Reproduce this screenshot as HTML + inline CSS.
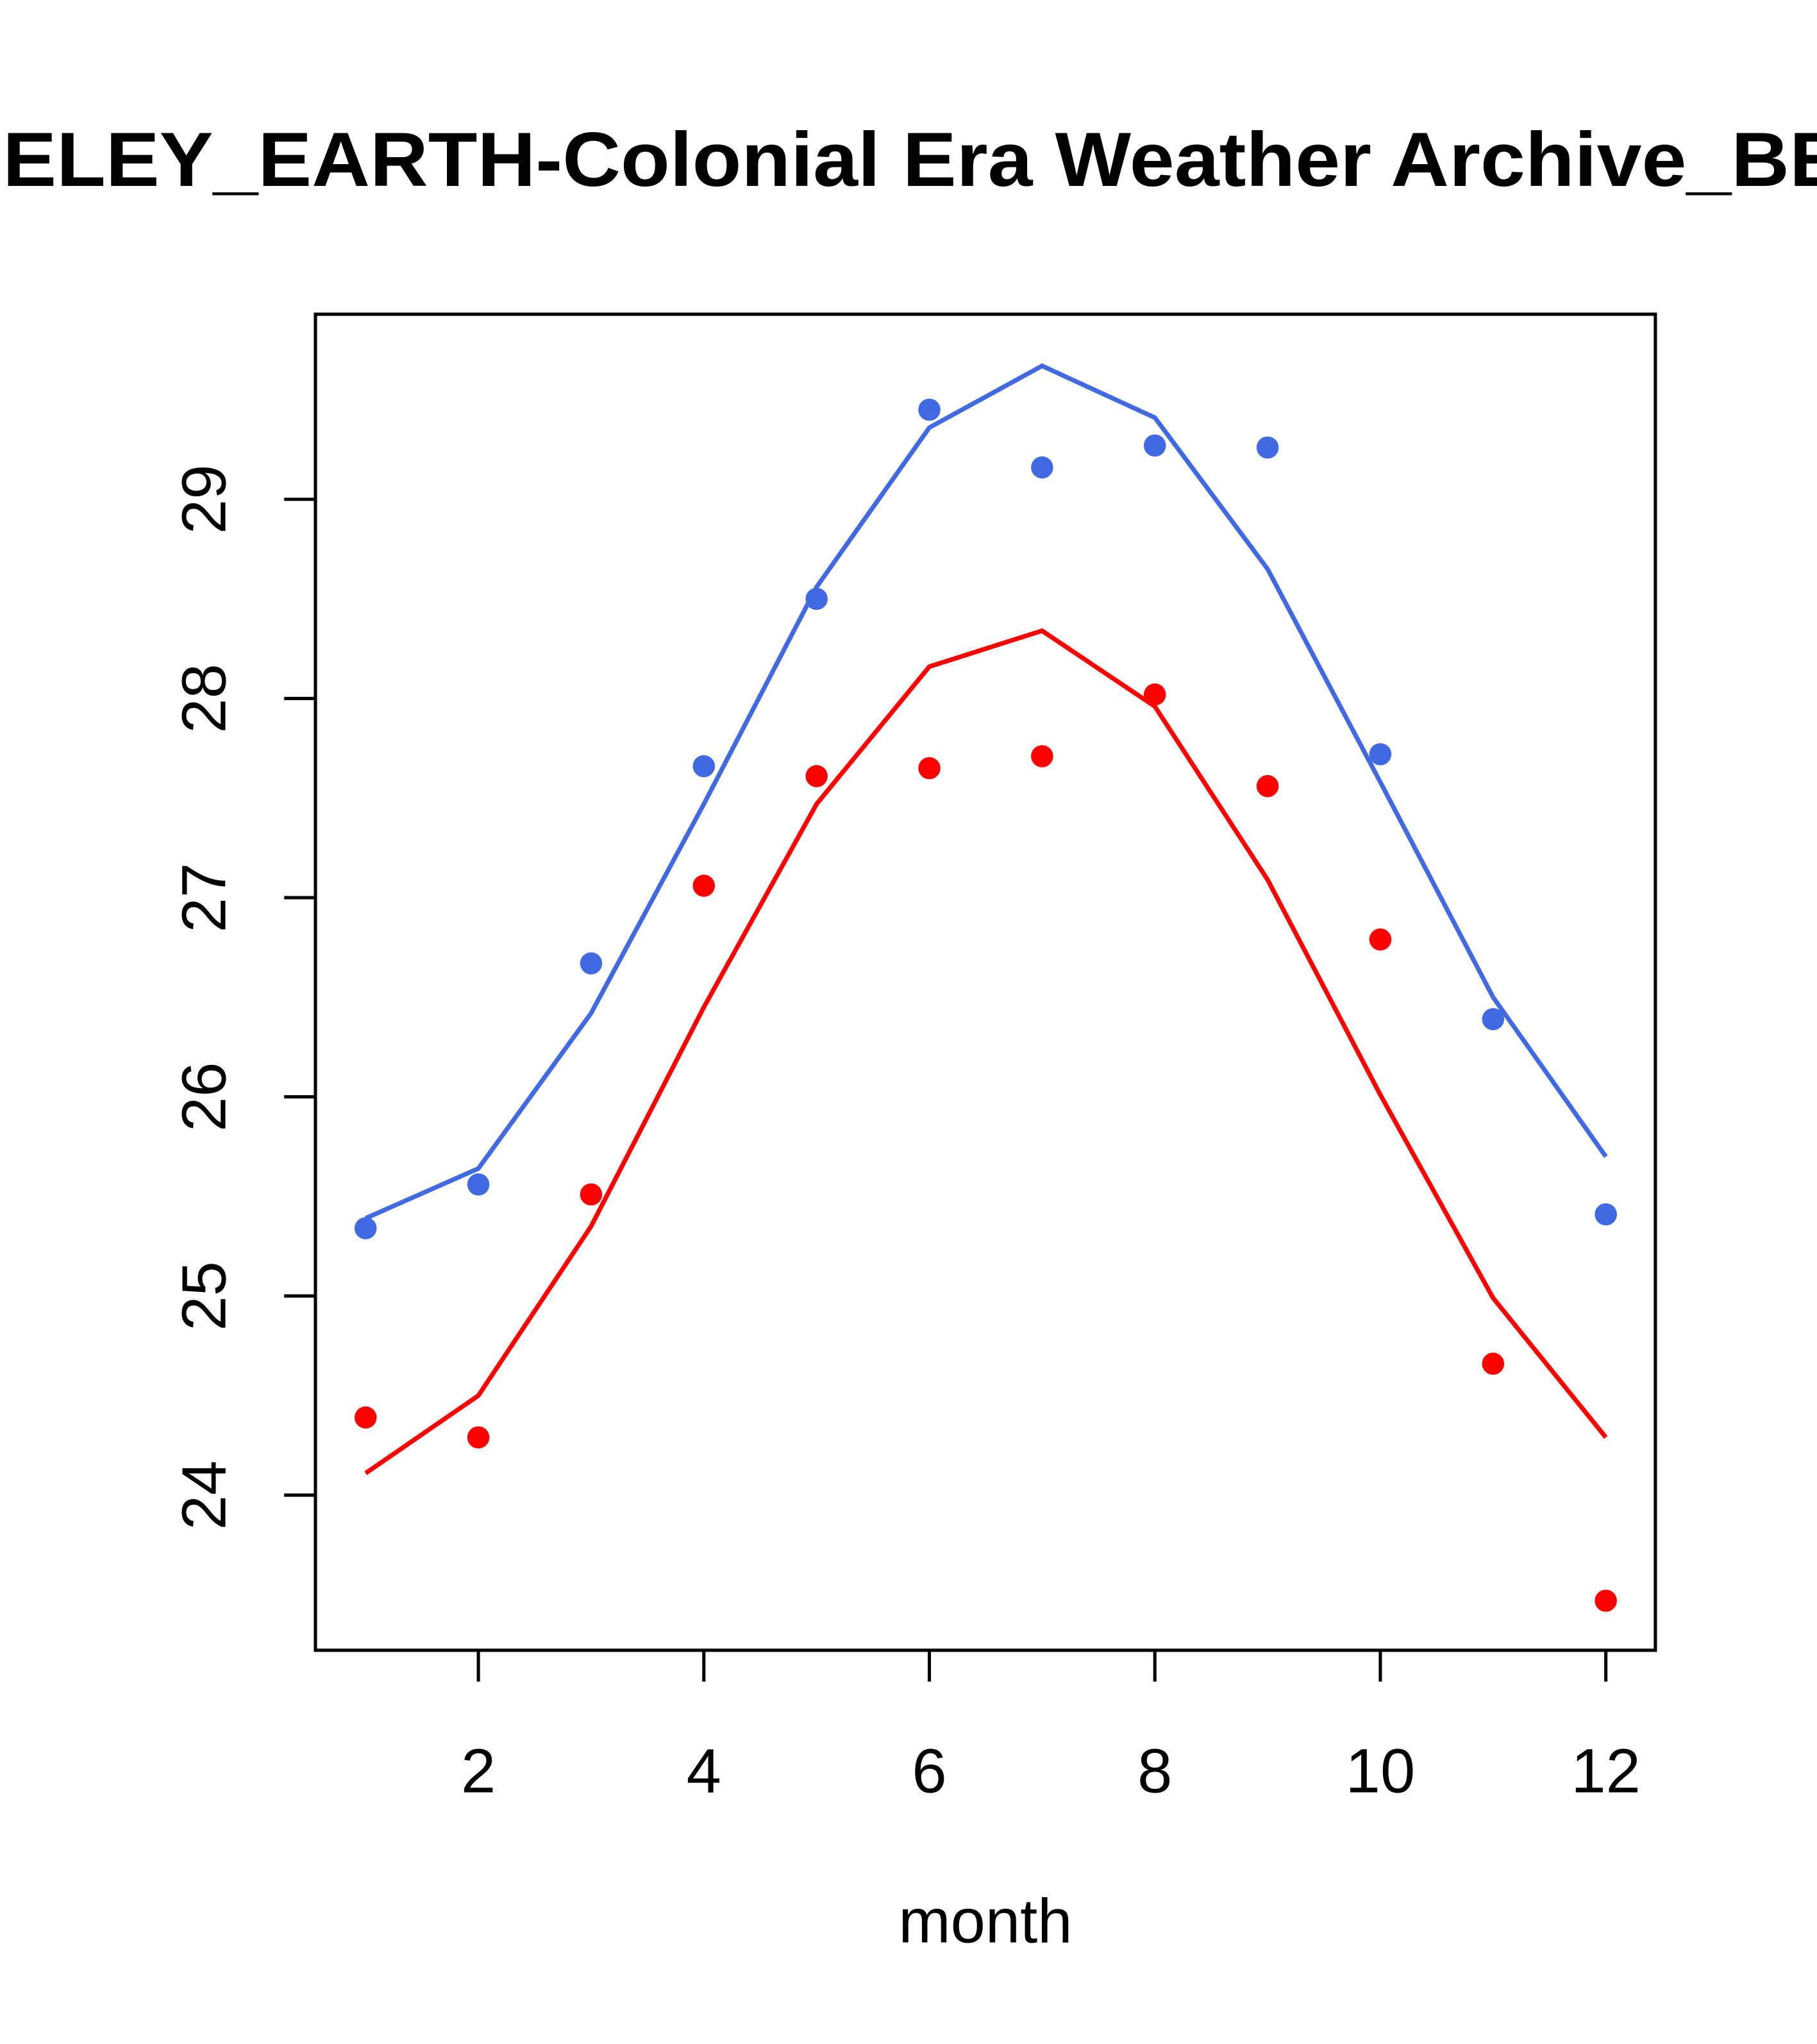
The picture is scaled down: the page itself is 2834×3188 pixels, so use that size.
<!DOCTYPE html>
<html><head><meta charset="utf-8"><style>html,body{margin:0;padding:0;background:#fff}svg{display:block}</style></head>
<body>
<svg id="chart" width="2834" height="3188" viewBox="0 0 1394 1568" xmlns="http://www.w3.org/2000/svg" font-family="'Liberation Sans', sans-serif">
<rect width="1394" height="1568" fill="#fff"/>
<text x="2" y="142.6" font-size="59" font-weight="bold" text-anchor="start" transform="scale(1.048,1)">ELEY_EARTH-Colonial Era Weather Archive_BE-5000</text>
<rect x="242" y="241" width="1028" height="1025" fill="none" stroke="#000" stroke-width="2.5"/>
<g id="axes"></g>
<g id="series"></g>
<text x="756" y="1490" font-size="48" text-anchor="middle">month</text>
</svg>
<script>
const months = [1,2,3,4,5,6,7,8,9,10,11,12];
const bluePoints = [25.34,25.56,26.67,27.66,28.50,29.45,29.16,29.27,29.26,27.72,26.39,25.41];
const blueLine = [25.39,25.64,26.42,27.47,28.56,29.36,29.67,29.41,28.65,27.58,26.50,25.70];
const redPoints = [24.39,24.29,25.51,27.06,27.61,27.65,27.71,28.02,27.56,26.79,24.66,23.47];
const redLine = [24.11,24.50,25.35,26.45,27.47,28.16,28.34,27.96,27.09,26.01,24.99,24.29];
const xTicks = [2,4,6,8,10,12];
const yTicks = [24,25,26,27,28,29];

const NS = "http://www.w3.org/2000/svg";
function xs(v){ return 367 + (v-2)*86.5; }
function ys(v){ return 1147 - (v-24)*152.8; }
function mk(tag, attrs, parent){
  const e = document.createElementNS(NS, tag);
  for (const k in attrs) e.setAttribute(k, attrs[k]);
  parent.appendChild(e);
  return e;
}
const axes = document.getElementById('axes');
const series = document.getElementById('series');

xTicks.forEach(t => {
  const l = mk('line', {x1:xs(t), x2:xs(t), y1:1266, y2:1290, stroke:'#000','stroke-width':2.5}, axes);
  
  
  const tx = mk('text', {x:xs(t), y:1375, 'font-size':48, 'text-anchor':'middle'}, axes);
  tx.textContent = t;
  
  
});
yTicks.forEach(t => {
  const l = mk('line', {x1:242, x2:218, y1:ys(t), y2:ys(t), stroke:'#000','stroke-width':2.5}, axes);
  
  
  const tx = mk('text', {x:0, y:0, 'font-size':48, 'text-anchor':'middle', transform:'translate(173,'+ys(t)+') rotate(-90)'}, axes);
  tx.textContent = t;
  
  
});

function drawLine(vals, color, name){
  const d = vals.map((v,i)=>(i?'L':'M')+xs(months[i])+','+ys(v)).join(' ');
  const p = mk('path', {d:d, fill:'none', stroke:color, 'stroke-width':3.5}, series);
  
  
}
function drawPoints(vals, color, name){
  vals.forEach((v,i)=>{
    const c = mk('circle', {cx:xs(months[i]), cy:ys(v), r:8.5, fill:color}, series);
    
    
  });
}
drawLine(blueLine, '#4169E1', 'blue-fit-line');
drawLine(redLine, '#FF0000', 'red-fit-line');
drawPoints(bluePoints, '#4169E1', 'blue-point');
drawPoints(redPoints, '#FF0000', 'red-point');
</script>
</body></html>
